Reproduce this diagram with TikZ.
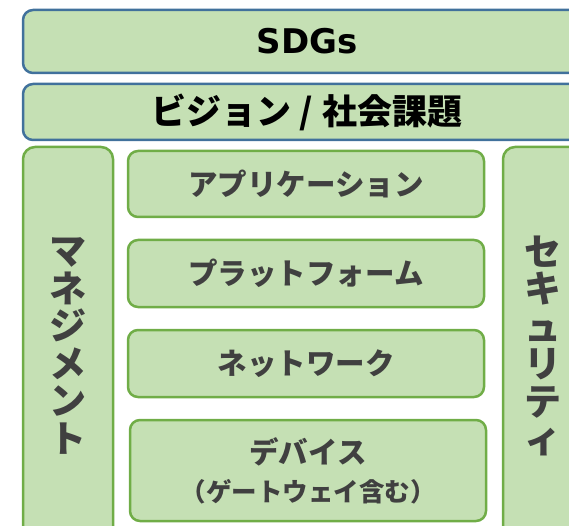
\documentclass[tikz,border=0pt]{standalone}
\usepackage{fontspec}
\setmainfont{Noto Sans CJK JP}
\newfontfamily\latinfont{DejaVu Sans}
\usetikzlibrary{positioning}
\definecolor{fond}{HTML}{C5E0B4}
\definecolor{vert}{HTML}{70AD47}
\definecolor{bleu}{HTML}{41719C}
\definecolor{gris}{HTML}{404040}
\tikzstyle{bandeau}=[rectangle,rounded corners=10pt,draw=bleu,line width=2.5pt,fill=fond,minimum width=568pt,inner sep=0pt,outer sep=0pt,font=\bfseries]
\tikzstyle{couche}=[rectangle,rounded corners=10pt,draw=vert,line width=2.5pt,fill=fond,minimum width=356pt,inner sep=0pt,outer sep=0pt,text=gris,font=\fontsize{29.5}{32}\selectfont\bfseries,align=center]
\tikzstyle{pilier}=[rectangle,rounded corners=12pt,draw=vert,line width=2.5pt,fill=fond,minimum height=398pt,inner sep=0pt,outer sep=0pt,text=gris,font=\fontsize{37}{37.5}\selectfont\bfseries,align=center]

\begin{document}
\begin{tikzpicture}[x=1pt,y=1pt]
\useasboundingbox (0,0) rectangle (569,-526);
\clip (0,0) rectangle (569,-526);

\node[bandeau,minimum height=63pt] (sdgs) at (307,-41.5) {\latinfont\fontsize{34}{36}\selectfont\bfseries SDGs};
\node[bandeau,minimum height=56pt,font=\fontsize{35}{36}\selectfont\bfseries] (vision) [below=11pt of sdgs] {ビジョン\hspace{8pt}/\hspace{9pt}社会課題};

\node[pilier,minimum width=90pt] (gestion) at (68,-346) {マ\\ネ\\ジ\\メ\\ン\\ト};
\node[pilier,minimum width=80pt] (securite) at (543,-346) {セ\\キ\\ュ\\リ\\テ\\ィ};

\node[couche,minimum height=66pt] (appli) at (306,-184) {アプリケーション};
\node[couche,minimum height=67pt] (plateforme) [below=23pt of appli] {プラットフォーム};
\node[couche,minimum height=67pt] (reseau) [below=23pt of plateforme] {ネットワーク};
\node[couche,minimum height=101pt,xshift=2pt] (device) [below=23pt of reseau] {デバイス\\[6pt]{\fontsize{25.5}{28}\selectfont （ゲートウェイ含む）}};

\end{tikzpicture}
\end{document}
